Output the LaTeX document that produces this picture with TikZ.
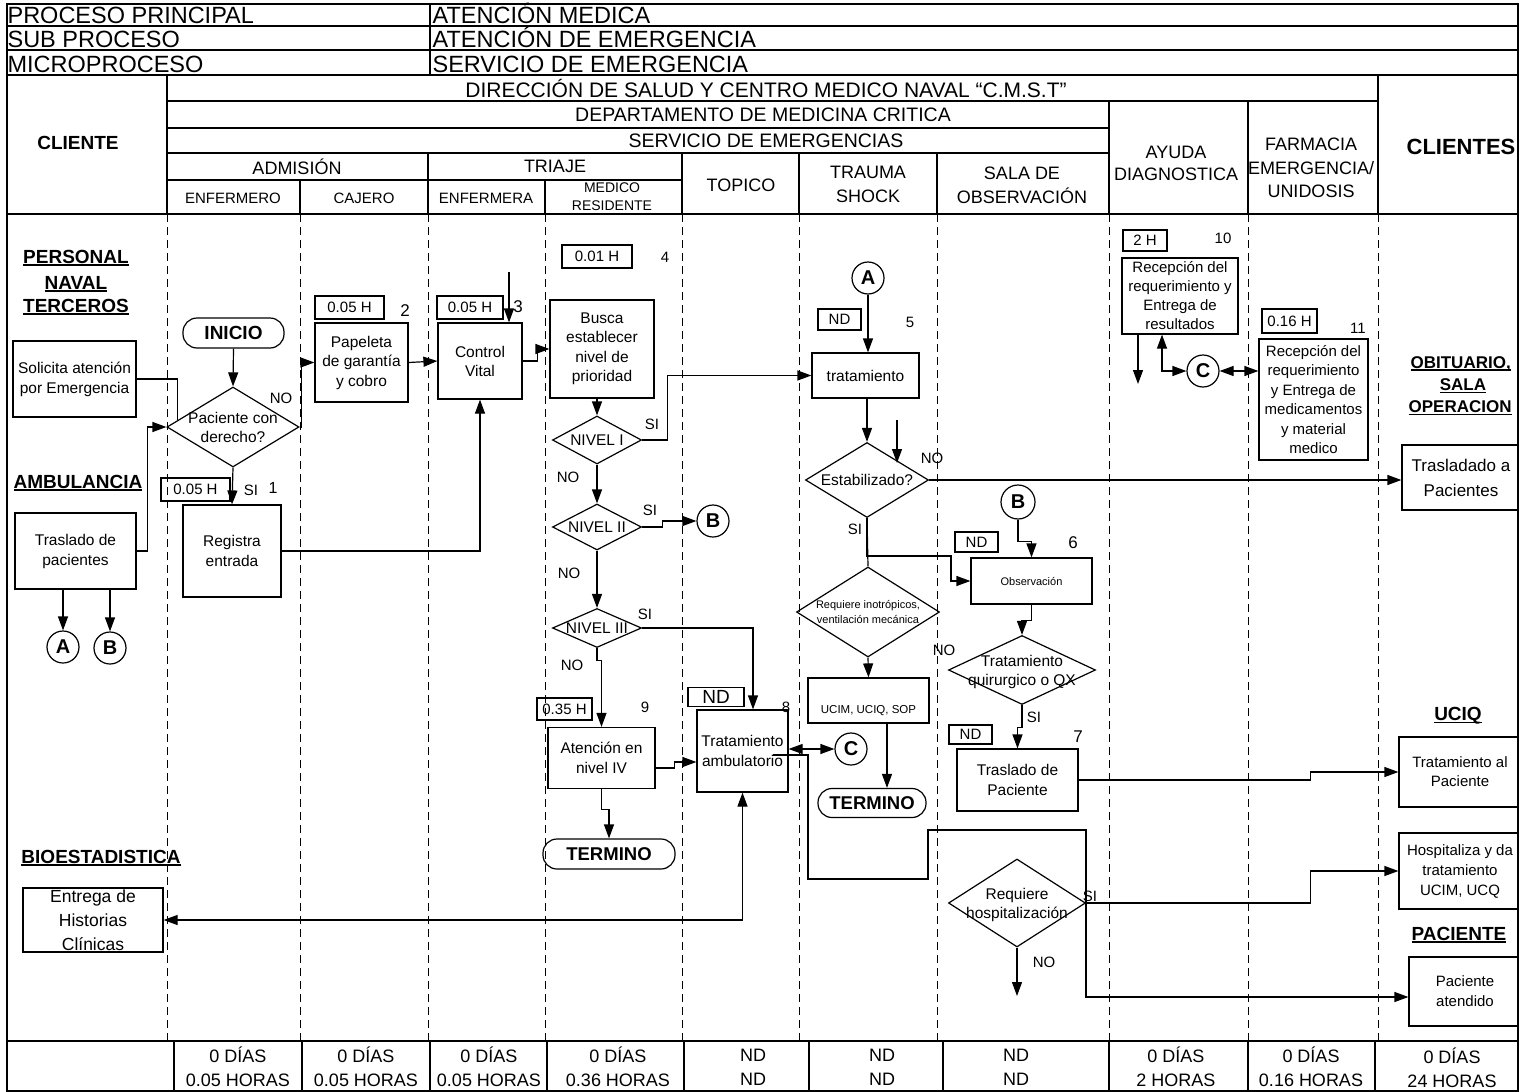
\documentclass[tikz,border=0pt]{standalone}
\usepackage{fontspec}
\setmainfont{Liberation Sans}
\usetikzlibrary{arrows.meta,shapes.geometric,calc}
\newcommand{\fsz}[2]{\fontsize{#1}{#2}\selectfont}
\newcommand{\dtxt}[1]{\makebox[0pt]{\smash{\raisebox{-0.37em}{\begin{tabular}{@{}c@{}}#1\end{tabular}}}}}
\newcommand{\undl}[1]{\setbox0=\hbox{#1}\rlap{\rule[-2.2pt]{\wd0}{1.4pt}}\box0}
\begin{document}
\begin{tikzpicture}[x=1pt,y=-1pt,line width=1.2pt,>={Triangle[length=14pt,width=10pt]},
  actbox/.style={draw,rectangle,align=center,inner sep=0pt,font=\fsz{15.5}{20}},
  decbox/.style={draw,diamond,inner sep=0pt,font=\fsz{15.5}{19}},
  timebox/.style={draw,rectangle,inner sep=0pt,font=\fsz{15}{16}},
  termbox/.style={draw,rectangle,rounded corners=14pt,inner sep=0pt,font=\bfseries\fsz{18.5}{20}},
  conn/.style={draw,circle,inner sep=0pt,minimum size=32pt,font=\bfseries\fsz{20}{20}},
  lbl/.style={inner sep=0pt,font=\fsz{15}{16}},
  hdr/.style={inner sep=0pt,align=center,font=\fsz{18}{23}},
  cli/.style={inner sep=0pt,font=\bfseries\fsz{19}{20}},
  lane/.style={line width=1pt,dash pattern=on 8pt off 5pt}]
\useasboundingbox (0,0) rectangle (1519,1092);
\clip (0,0) rectangle (1519,1092);

% header table
\draw (7,4) rectangle (1518,1091);
\draw (7,26) -- (1518,26);
\draw (7,50) -- (1518,50);
\draw (7,75) -- (1518,75);
\draw (430,4) -- (430,75);
\draw (167,75) -- (167,214);
\draw (167,101) -- (1378,101);
\draw (1378,75) -- (1378,214);
\draw (167,128) -- (1109,128);
\draw (167,153) -- (1109,153);
\draw (1109,101) -- (1109,214);
\draw (1248,101) -- (1248,214);
\draw (167,180) -- (682,180);
\draw (428,153) -- (428,214);
\draw (682,153) -- (682,214);
\draw (799,153) -- (799,214);
\draw (937,153) -- (937,214);
\draw (300,180) -- (300,214);
\draw (545,180) -- (545,214);
\draw (7,214) -- (1518,214);
\draw (7,1041) -- (1518,1041);
\foreach \x in {174,302,430,547,684,809,943,1109,1248,1375}
  \draw (\x,1041) -- (\x,1092);
\foreach \x in {167,300,428,545,682,799,937,1109,1248,1378}
  \draw[lane] (\x,214) -- (\x,1041);

\node[anchor=base west,inner sep=0pt,font=\fsz{23.5}{24}] (hPP) at (7,23.5) {PROCESO PRINCIPAL};
\node[anchor=base west,inner sep=0pt,font=\fsz{23.5}{24}] (hSP) at (7,47.5) {SUB PROCESO};
\node[anchor=base west,inner sep=0pt,font=\fsz{23.5}{24}] (hMP) at (7,72) {MICROPROCESO};
\node[anchor=base west,inner sep=0pt,font=\fsz{23.5}{24}] (hAM) at (432,23.5) {ATENCIÓN MEDICA};
\node[anchor=base west,inner sep=0pt,font=\fsz{23.5}{24}] (hAE) at (432,47.5) {ATENCIÓN DE EMERGENCIA};
\node[anchor=base west,inner sep=0pt,font=\fsz{23.5}{24}] (hSE) at (432,72) {SERVICIO DE EMERGENCIA};
\node[hdr,font=\fsz{21}{23}] (hDir) at (766,88) {DIRECCIÓN DE SALUD Y CENTRO MEDICO NAVAL “C.M.S.T”};
\node[hdr,font=\fsz{19.5}{23}] (hDep) at (763,115) {DEPARTAMENTO DE MEDICINA CRITICA};
\node[hdr,font=\fsz{19.5}{23}] (hSer) at (766,141) {SERVICIO DE EMERGENCIAS};
\node[hdr] (hAdm) at (297,167) {ADMISIÓN};
\node[hdr] (hTri) at (555,166) {TRIAJE};
\node[hdr,font=\fsz{15}{18}] (hEnf) at (233,198) {ENFERMERO};
\node[hdr,font=\fsz{15}{18}] (hCaj) at (364,198) {CAJERO};
\node[hdr,font=\fsz{15}{18}] (hEnfa) at (486,198) {ENFERMERA};
\node[hdr,font=\fsz{14}{18}] (hMed) at (612,197) {MEDICO\\RESIDENTE};
\node[hdr] (hTop) at (741,185) {TOPICO};
\node[hdr,font=\fsz{18}{24}] (hTra) at (868,184) {TRAUMA\\SHOCK};
\node[hdr,font=\fsz{18}{24}] (hSala) at (1022,185) {SALA DE\\OBSERVACIÓN};
\node[hdr,font=\fsz{18}{22}] (hAyu) at (1176,163) {AYUDA\\DIAGNOSTICA};
\node[hdr,font=\fsz{18}{23.5}] (hFar) at (1311,168) {FARMACIA\\EMERGENCIA/\\UNIDOSIS};
\node[hdr,font=\bfseries\fsz{22}{24}] (hClis) at (1461,147) {CLIENTES};
\node[hdr,font=\bfseries\fsz{19}{20}] (hCli) at (78,143) {CLIENTE};

% totals
\foreach \x/\a/\b [count=\i] in {238/0 DÍAS/0.05 HORAS,366/0 DÍAS/0.05 HORAS,489/0 DÍAS/0.05 HORAS,
  618/0 DÍAS/0.36 HORAS,753/ND/ND,882/ND/ND,1016/ND/ND,1176/0 DÍAS/2 HORAS,1311/0 DÍAS/0.16 HORAS}
  \node[hdr,font=\fsz{18}{24}] (tot\i) at (\x,1067) {\a\\\b};
\node[hdr,font=\fsz{18}{24}] (tot10) at (1452,1068) {0 DÍAS\\24 HORAS};

% cliente
\node[cli] (pn1) at (76,258) {\undl{PERSONAL}};
\node[cli] (pn2) at (76,284) {\undl{NAVAL}};
\node[cli] (pn3) at (76,307) {\undl{TERCEROS}};
\node[actbox,minimum width=123pt,minimum height=76pt] (Sol) at (74.5,379) {Solicita atención\\por Emergencia};
\node[cli] (amb) at (78,483) {\undl{AMBULANCIA}};
\node[actbox,minimum width=121pt,minimum height=76pt] (Amb) at (75.5,551) {Traslado de\\pacientes};
\node[conn] (CA) at (63,647) {A};
\node[conn] (CB) at (110,648) {B};
\node[cli] (bio) at (101,858) {\undl{BIOESTADISTICA}};
\node[actbox,minimum width=140pt,minimum height=64pt,font=\fsz{17.5}{24}] (Hist) at (93,920) {\dtxt{Entrega de\\Historias\\Clínicas}};

% enfermero
\node[termbox,minimum width=101pt,minimum height=30pt,font=\bfseries\fsz{19}{20}] (Ini) at (233.5,333) {INICIO};
\node[decbox,minimum width=132pt,minimum height=80pt] (D1) at (233,427) {\dtxt{Paciente con\\derecho?}};
\node[lbl] (no1) at (281,398) {NO};
\node[timebox,minimum width=69pt,minimum height=23pt] (T1) at (195.5,489.5) {0.05 H};
\node[lbl] (si1) at (251,490) {SI};
\node[lbl,font=\fsz{16}{16}] (n1) at (273,488) {1};
\node[actbox,minimum width=98pt,minimum height=92pt] (Reg) at (232,551) {Registra\\entrada};

% cajero
\node[timebox,minimum width=69pt,minimum height=23pt] (T2) at (349.5,307.5) {0.05 H};
\node[lbl,font=\fsz{17}{16}] (n2) at (405,311) {2};
\node[actbox,minimum width=93pt,minimum height=79pt,font=\fsz{15.5}{19.5}] (Pap) at (361.5,362.5) {Papeleta\\de garantía\\y cobro};

% enfermera
\node[timebox,minimum width=66pt,minimum height=23pt] (T3) at (470,307.5) {0.05 H};
\node[lbl,font=\fsz{17}{16}] (n3) at (518,307) {3};
\coordinate (k3) at (509,272);
\node[actbox,minimum width=84pt,minimum height=76pt,font=\fsz{15.5}{19}] (CV) at (480,361) {Control\\Vital};

% medico residente
\node[timebox,minimum width=70pt,minimum height=23pt] (T4) at (597,256.5) {0.01 H};
\node[lbl] (n4) at (665,257) {4};
\node[actbox,minimum width=104pt,minimum height=98pt,font=\fsz{15.5}{19.5}] (Bus) at (602,349) {Busca\\establecer\\nivel de\\prioridad};
\node[decbox,minimum width=89pt,minimum height=48pt] (N1) at (597,440) {\dtxt{NIVEL I}};
\node[decbox,minimum width=89pt,minimum height=46pt] (N2) at (597,527) {\dtxt{NIVEL II}};
\node[decbox,minimum width=89pt,minimum height=39pt] (N3) at (597,628) {\dtxt{NIVEL III}};
\node[lbl] (si2) at (652,424) {SI};
\node[lbl] (no2) at (568,477) {NO};
\node[lbl] (si3) at (650,510) {SI};
\node[lbl] (no3) at (569,573) {NO};
\node[lbl] (si4) at (645,614) {SI};
\node[lbl] (no4) at (572,665) {NO};
\node[conn] (CB3) at (713,521) {B};
\node[timebox,minimum width=55pt,minimum height=22pt] (T9) at (564.5,709) {0.35 H};
\node[lbl] (n9) at (645,707) {9};
\node[actbox,minimum width=107pt,minimum height=61pt] (Aten) at (601.5,758) {Atención en\\nivel IV};
\node[termbox,minimum width=132pt,minimum height=30pt] (Term1) at (609,854) {TERMINO};

% topico
\node[timebox,minimum width=56pt,minimum height=19pt,font=\fsz{19}{19}] (T8) at (716,697) {ND};
\node[lbl] (n8) at (786,707) {8};
\node[actbox,minimum width=91pt,minimum height=82pt] (TAmb) at (742.5,751) {Tratamiento\\ambulatorio};
\node[conn] (C1) at (851,749) {C};

% trauma shock
\node[conn] (CA2) at (868,278) {A};
\node[timebox,minimum width=43pt,minimum height=21pt] (T5) at (839.5,319.5) {ND};
\node[lbl] (n5) at (910,322) {5};
\node[actbox,minimum width=107pt,minimum height=45pt] (Trat) at (865.5,375.5) {tratamiento};
\node[decbox,minimum width=123pt,minimum height=75pt] (Est) at (867,480) {\dtxt{Estabilizado?}};
\coordinate (k5a) at (897,420);
\coordinate (k5b) at (897,463);
\node[lbl] (no5) at (932,458) {NO};
\node[lbl] (si5) at (855,529) {SI};
\node[decbox,minimum width=143pt,minimum height=90pt,font=\fsz{11}{15}] (Req) at (868,612) {\dtxt{Requiere inotrópicos,\\ventilación mecánica}};
\node[lbl] (no6) at (944,650) {NO};
\node[actbox,minimum width=121pt,minimum height=45pt,font=\fsz{11.5}{12},text height=25pt,text depth=0pt] (Ucim) at (868.5,700.5) {UCIM, UCIQ, SOP};
\node[termbox,minimum width=108pt,minimum height=29pt] (Term2) at (872,803) {TERMINO};

% sala de observacion
\node[conn,minimum size=34pt] (CB2) at (1018,502) {B};
\node[timebox,minimum width=43pt,minimum height=20pt] (T6) at (976.5,542) {ND};
\node[lbl,font=\fsz{17}{16}] (n6) at (1073,543) {6};
\node[actbox,minimum width=121pt,minimum height=46pt,font=\fsz{11}{12}] (Obs) at (1031.5,581) {Observación};
\node[decbox,minimum width=147pt,minimum height=69pt] (QX) at (1022,670) {\dtxt{Tratamiento\\quirurgico o QX}};
\node[lbl] (si7) at (1034,717) {SI};
\node[timebox,minimum width=43pt,minimum height=19pt] (T7) at (970.5,734.5) {ND};
\node[lbl,font=\fsz{17}{16}] (n7) at (1078,737) {7};
\node[actbox,minimum width=121pt,minimum height=62pt] (TrP) at (1017.5,780) {Traslado de\\Paciente};
\node[decbox,minimum width=137pt,minimum height=88pt] (Hosp) at (1017,903) {\dtxt{Requiere\\hospitalización}};
\node[lbl] (si8) at (1090,896) {SI};
\node[lbl] (no8) at (1044,962) {NO};
\coordinate (k8) at (1019,996);

% ayuda diagnostica
\node[timebox,minimum width=44pt,minimum height=21pt] (T10) at (1145,240.5) {2 H};
\node[lbl] (n10) at (1223,238) {10};
\node[actbox,minimum width=116pt,minimum height=76pt,font=\fsz{15}{19}] (Ayu) at (1180,296) {Recepción del\\requerimiento y\\Entrega de\\resultados};
\coordinate (k10) at (1138,384);
\node[conn] (C2) at (1203,371) {C};

% farmacia
\node[timebox,minimum width=55pt,minimum height=24pt] (T11) at (1289.5,321) {0.16 H};
\node[lbl] (n11) at (1358,328) {11};
\node[actbox,minimum width=109pt,minimum height=121pt,font=\fsz{15}{19.5}] (Far) at (1313.5,399.5) {Recepción del\\requerimiento\\y Entrega de\\medicamentos\\y material\\medico};

% clientes
\node[cli,font=\bfseries\fsz{17}{20},anchor=west] (ob1) at (1410,364) {\undl{OBITUARIO,}};
\node[cli,font=\bfseries\fsz{17}{20}] (ob2) at (1463,386) {\undl{SALA}};
\node[cli,font=\bfseries\fsz{17}{20},anchor=west] (ob3) at (1408,408) {\undl{OPERACION}};
\node[actbox,minimum width=118pt,minimum height=65pt,font=\fsz{17}{25}] (Tpac) at (1461,477.5) {Trasladado a\\Pacientes};
\node[cli] (uciq) at (1458,716) {\undl{UCIQ}};
\node[actbox,minimum width=122pt,minimum height=70pt,font=\fsz{15}{19}] (TaP) at (1460,772) {Tratamiento al\\Paciente};
\node[actbox,minimum width=122pt,minimum height=76pt,font=\fsz{15}{20}] (Hosp2) at (1460,871) {Hospitaliza y da\\tratamiento\\UCIM, UCQ};
\node[cli] (pac) at (1459,935) {\undl{PACIENTE}};
\node[actbox,minimum width=112pt,minimum height=69pt,font=\fsz{15}{20}] (PAt) at (1465,991.5) {Paciente\\atendido};
\coordinate (y997) at (0,997);

% connectors
\draw (Sol.east) -| ($(D1.west)!0.17!(D1.north)$);
\draw[->] (Amb.east) -- ++(11,0) |- (D1.west);
\draw[->] (Amb.south -| CA.north) -- (CA.north);
\draw[->] (Amb.south -| CB.north) -- (CB.north);
\draw[->] (Ini.south) -- (D1.north);
\draw[->] (D1.east) -- ++(2,0) |- (Pap.west);
\draw[->] (D1.south) -- (Reg.north);
\draw[->] (Reg.east) -| (CV.south);
\draw[->] (Pap.east) -- (CV.west);
\draw[->] (k3) -- (k3 |- CV.north);
\draw[->] (CV.east) -- ++(15,0) |- (Bus.west);
\draw[->] (Bus.south -| N1.north) -- (N1.north);
\draw[->] (N1.east) -- ++(25,0) |- (Trat.west);
\draw[->] (N1.south) -- (N2.north);
\draw[->] (N2.east) -- ++(20,0) |- (CB3.west);
\draw[->] (N2.south) -- (N3.north);
\draw[->] (N3.east) -| ($(TAmb.north)+(10.5,0)$);
\draw[->] (N3.south) -- ++(0,12) -| (Aten.north);
\draw[->] ($(Aten.east)+(0,10)$) -- ++(19,0) |- ($(TAmb.west)+(0,11)$);
\draw[->] (Aten.south) -- ++(0,20) -| (Term1.north);
\draw[<->] (TAmb.east |- C1) -- (C1.west);
\draw[<->] (Hist.east) -| (TAmb.south);
\draw[->] ($(TAmb.east)+(-16,4)$) -| (808,879) -| (928,830) -| (1086,997) -- (PAt.west |- y997);
\draw[->] (CA2.south) -- (CA2.south |- Trat.north);
\draw[->] (Est.north |- Trat.south) -- (Est.north);
\draw[->] (k5a) -- (k5b);
\draw[->] (Est.east) -- (Est.east -| Tpac.west);
\draw[->] (Est.south) |- (951,556) |- (Obs.west);
\draw (Est.south) -- (Req.north);
\draw[->] (Req.south) -- (Ucim.north);
\draw[->] ($(Ucim.south)+(18.5,0)$) -- ($(Term2.north)+(15,0)$);
\draw[->] (CB2.south) -- ++(0,22) -| (Obs.north);
\draw[->] (Obs.south) -- ++(0,16) -| (QX.north);
\draw[->] (QX.south) -- ++(0,22) -| (TrP.north);
\draw[->] (TrP.east) -- ++(232,0) |- (TaP.west);
\draw[->] (Hosp.east) -- ++(224,0) |- (Hosp2.west);
\draw[->] (Hosp.south) -- (Hosp.south |- k8);
\draw[->] (k10 |- Ayu.south) -- (k10);
\draw[<->] (C2.west) -| ($(Ayu.south)+(-18,0)$);
\draw[<->] (C2.east) -- (C2 -| Far.west);
\end{tikzpicture}
\end{document}
